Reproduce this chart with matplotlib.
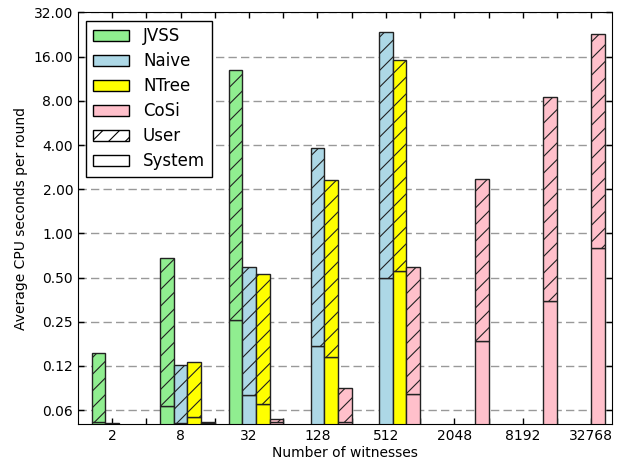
import matplotlib
matplotlib.use("Agg")
import matplotlib.pyplot as plt
import numpy as np
from matplotlib.patches import Patch
from matplotlib.ticker import FixedLocator, FuncFormatter

nan = np.nan

# number of witnesses per group
witnesses = ["2", "8", "32", "128", "512", "2048", "8192", "32768"]

# CPU seconds per round: system part and total (user + system)
jvss_system = [0.052, 0.067, 0.257, nan, nan, nan, nan, nan]
jvss_total = [0.152, 0.683, 13.0, nan, nan, nan, nan, nan]
naive_system = [0.0505, 0.0513, 0.079, 0.171, 0.50, nan, nan, nan]
naive_total = [0.051, 0.127, 0.593, 3.8, 23.7, nan, nan, nan]
ntree_system = [nan, 0.056, 0.069, 0.143, 0.557, nan, nan, nan]
ntree_total = [nan, 0.132, 0.525, 2.31, 15.2, nan, nan, nan]
cosi_system = [nan, 0.051, 0.052, 0.0518, 0.081, 0.186, 0.344, 0.80]
cosi_total = [nan, 0.052, 0.0545, 0.089, 0.586, 2.36, 8.55, 22.8]

series = [
    ("JVSS", "lightgreen", jvss_system, jvss_total),
    ("Naive", "lightblue", naive_system, naive_total),
    ("NTree", "yellow", ntree_system, ntree_total),
    ("CoSi", "pink", cosi_system, cosi_total),
]

plt.rcParams["hatch.linewidth"] = 0.8

width = 0.2
idx = np.arange(len(witnesses), dtype=float)

fig = plt.figure(figsize=(6.26, 4.66), dpi=100)
ax = fig.add_axes([0.1246, 0.0895, 0.8525, 0.8837])

for k, (name, color, sys_vals, tot_vals) in enumerate(series):
    pos = idx - 0.3 + k * width
    if name == "CoSi":
        # the last CoSi bar sits right on its tick in the original
        pos[-1] = idx[-1]
    sys_vals = np.array(sys_vals)
    tot_vals = np.array(tot_vals)
    ax.bar(pos, sys_vals, width, align="edge", color=color,
           edgecolor="#222222", linewidth=1.0)
    ax.bar(pos, tot_vals - sys_vals, width, bottom=sys_vals, align="edge",
           color=color, edgecolor="#222222", linewidth=1.0, hatch="//")

ax.set_yscale("log", base=2)
ax.set_ylim(0.05, 32)
ax.set_xlim(-0.5, 7.3)

yt = [2.0 ** p for p in range(-4, 6)]
ax.yaxis.set_major_locator(FixedLocator(yt))
ax.yaxis.set_minor_locator(FixedLocator([]))
ax.yaxis.set_major_formatter(FuncFormatter(lambda v, p: "%.2f" % v))

ax.set_xticks(idx)
ax.set_xticklabels(witnesses)
ax.xaxis.set_minor_locator(FixedLocator(idx[:-1] + 0.5))

ax.tick_params(which="both", direction="in", top=True, right=True,
               length=4, width=1, labelsize=10)
ax.grid(axis="y", which="major", color="#999999", linestyle="--",
        dashes=(6, 3), linewidth=1)
ax.set_axisbelow(True)

ax.set_xlabel("Number of witnesses", fontsize=10, labelpad=2)
ax.set_ylabel("Average CPU seconds per round", fontsize=10)

handles = [Patch(facecolor=c, edgecolor="black", label=n) for n, c, _, _ in series]
handles.append(Patch(facecolor="white", edgecolor="black", hatch="//", label="User"))
handles.append(Patch(facecolor="white", edgecolor="black", label="System"))
leg = ax.legend(handles=handles, loc="upper left", fontsize=12, fancybox=False,
                framealpha=1, edgecolor="black", labelspacing=0.42,
                handlelength=2.15, handletextpad=0.85, borderaxespad=0.5)
leg.get_frame().set_linewidth(1)

fig.savefig("out.png", dpi=100, facecolor="white")
